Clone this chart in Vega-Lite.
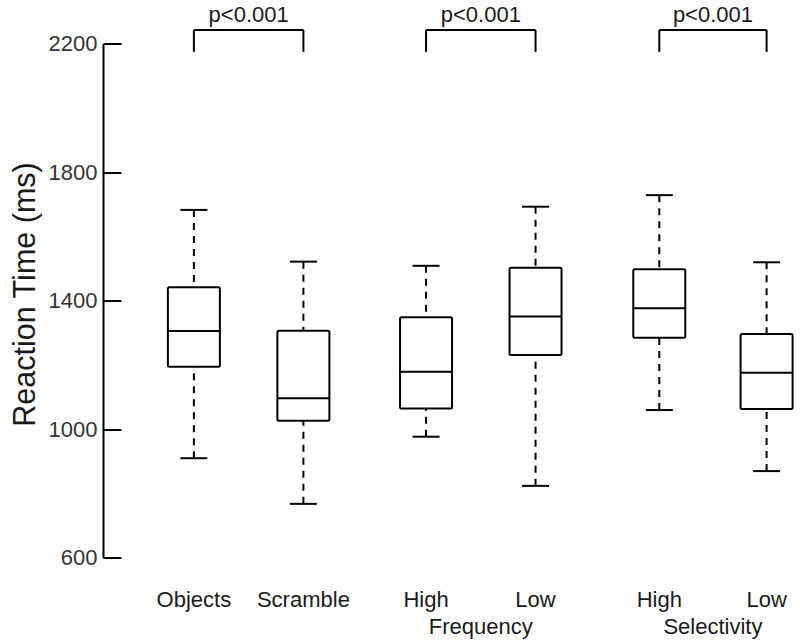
{
  "$schema": "https://vega.github.io/schema/vega-lite/v6.json",
  "width": 697,
  "height": 514,
  "autosize": {"type": "none"},
  "padding": {"left": 103, "top": 43.5, "right": 0, "bottom": 83.5},
  "background": "white",
  "config": {"view": {"stroke": null}, "font": "Liberation Sans"},
  "datasets": {
    "boxes": [
      {"cond": "Objects", "group": "", "pos": 1, "lo": 909, "q1": 1194, "med": 1305, "q3": 1441, "hi": 1682},
      {"cond": "Scramble", "group": "", "pos": 2, "lo": 767, "q1": 1026, "med": 1096, "q3": 1306, "hi": 1521},
      {"cond": "High", "group": "Frequency", "pos": 3.12, "lo": 976, "q1": 1064, "med": 1178, "q3": 1348, "hi": 1508},
      {"cond": "Low", "group": "Frequency", "pos": 4.12, "lo": 823, "q1": 1230, "med": 1350, "q3": 1502, "hi": 1692},
      {"cond": "High", "group": "Selectivity", "pos": 5.25, "lo": 1059, "q1": 1284, "med": 1376, "q3": 1497, "hi": 1728},
      {"cond": "Low", "group": "Selectivity", "pos": 6.23, "lo": 869, "q1": 1062, "med": 1175, "q3": 1296, "hi": 1519}
    ],
    "brackets": [
      {"x1": 1, "x2": 2, "xm": 1.5, "top": 2242, "bottom": 2174, "ptext": 2268, "label": "p<0.001"},
      {"x1": 3.12, "x2": 4.12, "xm": 3.62, "top": 2242, "bottom": 2174, "ptext": 2268, "label": "p<0.001"},
      {"x1": 5.25, "x2": 6.23, "xm": 5.74, "top": 2242, "bottom": 2174, "ptext": 2268, "label": "p<0.001"}
    ],
    "groups": [
      {"name": "Frequency", "xm": 3.62},
      {"name": "Selectivity", "xm": 5.74}
    ]
  },
  "encoding": {
    "x": {"field": "pos", "type": "quantitative", "scale": {"domain": [0.17, 6.535], "nice": false, "zero": false, "padding": 0}, "axis": null}
  },
  "layer": [
    {
      "data": {"name": "boxes"},
      "mark": {"type": "rule", "color": "black", "strokeWidth": 2, "strokeDash": [7, 6]},
      "encoding": {
        "y": {"field": "lo", "type": "quantitative",
          "scale": {"domain": [600, 2200], "nice": false, "zero": false, "padding": 0},
          "axis": {
            "title": "Reaction Time (ms)",
            "titleFontSize": 30.5, "titleFontWeight": "normal", "titleColor": "#1a1a1a", "titlePadding": 8,
            "titleY": 250.5,
            "values": [600, 1000, 1400, 1800, 2200],
            "format": "d",
            "grid": false,
            "domainColor": "black", "domainWidth": 2,
            "tickColor": "black", "tickWidth": 2, "tickSize": -18,
            "labelFontSize": 22, "labelColor": "#333333", "labelPadding": 24
          }
        },
        "y2": {"field": "q1"}
      }
    },
    {
      "data": {"name": "boxes"},
      "mark": {"type": "rule", "color": "black", "strokeWidth": 2, "strokeDash": [7, 6]},
      "encoding": {
        "y": {"field": "hi", "type": "quantitative"},
        "y2": {"field": "q3"}
      }
    },
    {
      "data": {"name": "boxes"},
      "mark": {"type": "tick", "orient": "horizontal", "color": "black", "opacity": 1, "size": 27, "thickness": 2},
      "encoding": {"y": {"field": "lo", "type": "quantitative"}}
    },
    {
      "data": {"name": "boxes"},
      "mark": {"type": "tick", "orient": "horizontal", "color": "black", "opacity": 1, "size": 27, "thickness": 2},
      "encoding": {"y": {"field": "hi", "type": "quantitative"}}
    },
    {
      "data": {"name": "boxes"},
      "mark": {"type": "bar", "size": 52, "fill": "white", "stroke": "black", "strokeWidth": 2, "cornerRadius": 1.5},
      "encoding": {
        "y": {"field": "q1", "type": "quantitative"},
        "y2": {"field": "q3"}
      }
    },
    {
      "data": {"name": "boxes"},
      "mark": {"type": "tick", "orient": "horizontal", "color": "black", "opacity": 1, "size": 53, "thickness": 2},
      "encoding": {"y": {"field": "med", "type": "quantitative"}}
    },
    {
      "data": {"name": "boxes"},
      "mark": {"type": "text", "fontSize": 22, "color": "#1a1a1a", "baseline": "alphabetic", "align": "center", "dy": 49.5},
      "encoding": {
        "y": {"datum": 600, "type": "quantitative"},
        "text": {"field": "cond"}
      }
    },
    {
      "data": {"name": "groups"},
      "mark": {"type": "text", "fontSize": 22, "color": "#1a1a1a", "baseline": "alphabetic", "align": "center", "dy": 76.5},
      "encoding": {
        "x": {"field": "xm", "type": "quantitative"},
        "y": {"datum": 600, "type": "quantitative"},
        "text": {"field": "name"}
      }
    },
    {
      "data": {"name": "brackets"},
      "mark": {"type": "rule", "color": "black", "strokeWidth": 2},
      "encoding": {
        "x": {"field": "x1", "type": "quantitative"},
        "x2": {"field": "x2"},
        "y": {"field": "top", "type": "quantitative"}
      }
    },
    {
      "data": {"name": "brackets"},
      "mark": {"type": "rule", "color": "black", "strokeWidth": 2},
      "encoding": {
        "x": {"field": "x1", "type": "quantitative"},
        "y": {"field": "top", "type": "quantitative"},
        "y2": {"field": "bottom"}
      }
    },
    {
      "data": {"name": "brackets"},
      "mark": {"type": "rule", "color": "black", "strokeWidth": 2},
      "encoding": {
        "x": {"field": "x2", "type": "quantitative"},
        "y": {"field": "top", "type": "quantitative"},
        "y2": {"field": "bottom"}
      }
    },
    {
      "data": {"name": "brackets"},
      "mark": {"type": "text", "fontSize": 22, "color": "#1a1a1a", "baseline": "alphabetic", "align": "center"},
      "encoding": {
        "x": {"field": "xm", "type": "quantitative"},
        "y": {"field": "ptext", "type": "quantitative"},
        "text": {"field": "label"}
      }
    }
  ]
}
